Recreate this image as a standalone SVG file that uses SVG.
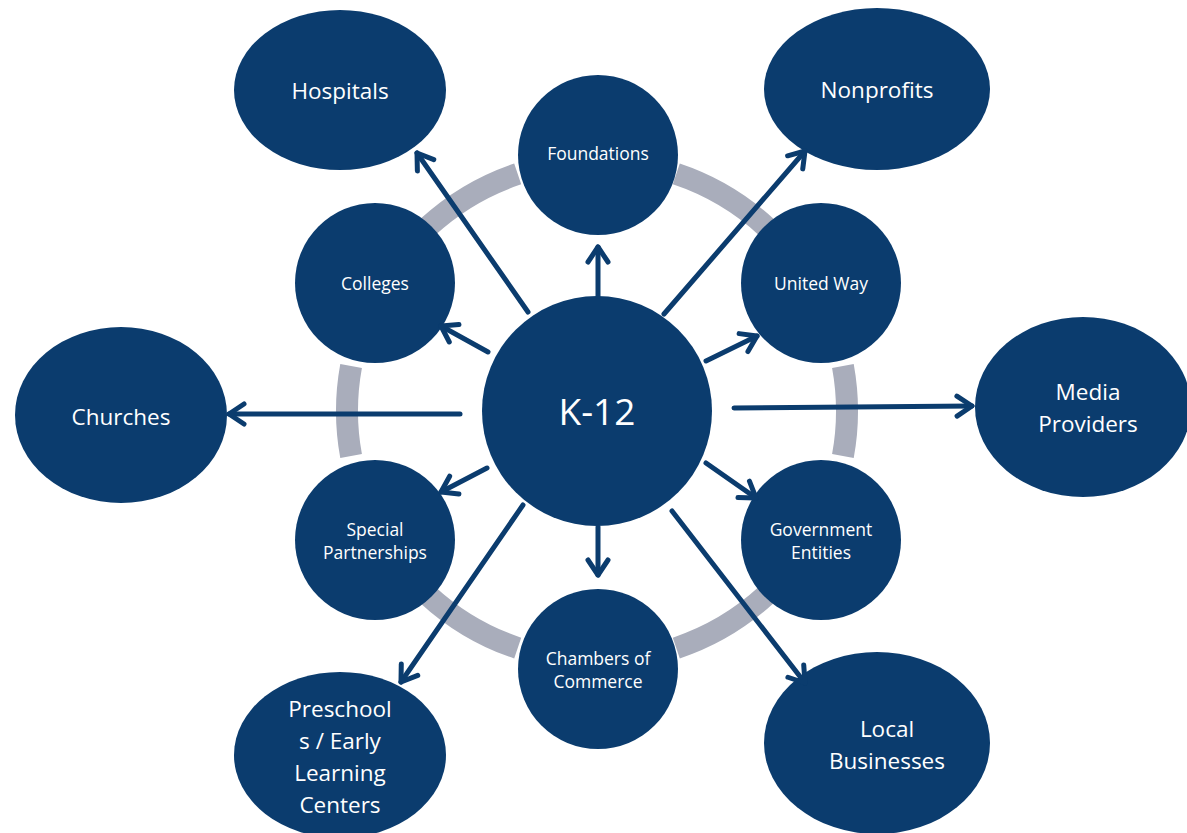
<svg xmlns="http://www.w3.org/2000/svg" width="1187" height="833" viewBox="0 0 1187 833">
<defs>
<style>
.node{fill:#0b3c6e}
.ring{fill:none;stroke:#a9adbb;stroke-width:22}
.conn{stroke:#0b3c6e;stroke-width:5;fill:none;stroke-linecap:round;marker-end:url(#arr)}
text{fill:#fff;font-family:"Open Sans","Liberation Sans",sans-serif;text-anchor:middle;dominant-baseline:central}
.s{font-size:17.5px}
.o{font-size:22.5px}
.k{font-size:37px}
</style>
<marker id="arr" markerUnits="userSpaceOnUse" markerWidth="30" markerHeight="30" viewBox="-22 -15 30 30" refX="0" refY="0" orient="auto">
<path d="M-15,-10 L0,0 L-15,10" fill="none" stroke="#0b3c6e" stroke-width="5" stroke-linecap="round" stroke-linejoin="round"/>
</marker>
</defs>
<rect width="1187" height="833" fill="#fff"/>
<g id="ring">
<path class="ring" d="M427.6,227.2 A250,250 0 0 1 517.7,173.9"/>
<path class="ring" d="M676.3,173.9 A250,250 0 0 1 766.6,227.3"/>
<path class="ring" d="M842.9,365.9 A250,250 0 0 1 842.9,456.1"/>
<path class="ring" d="M766.6,594.7 A250,250 0 0 1 676.3,648.1"/>
<path class="ring" d="M517.7,648.1 A250,250 0 0 1 427.6,594.8"/>
<path class="ring" d="M351.1,456.1 A250,250 0 0 1 351.1,365.9"/>
</g>
<g id="k12"><circle class="node" cx="597" cy="411" r="115"/><text class="k" x="597" y="410">K-12</text></g>
<g id="foundations"><circle class="node" cx="598" cy="155" r="80"/><text class="s" x="598" y="153">Foundations</text></g>
<g id="unitedway"><circle class="node" cx="821" cy="283" r="80"/><text class="s" x="821" y="283">United Way</text></g>
<g id="government"><circle class="node" cx="821" cy="540" r="80"/><text class="s" x="821" y="529">Government</text><text class="s" x="821" y="552">Entities</text></g>
<g id="chambers"><circle class="node" cx="598" cy="669" r="80"/><text class="s" x="598" y="658">Chambers of</text><text class="s" x="598" y="681">Commerce</text></g>
<g id="special"><circle class="node" cx="375" cy="540" r="80"/><text class="s" x="375" y="529">Special</text><text class="s" x="375" y="552">Partnerships</text></g>
<g id="colleges"><circle class="node" cx="375" cy="283" r="80"/><text class="s" x="375" y="283">Colleges</text></g>
<g id="hospitals"><ellipse class="node" cx="340" cy="90" rx="106" ry="80"/><text class="o" x="340" y="90">Hospitals</text></g>
<g id="nonprofits"><ellipse class="node" cx="877" cy="89" rx="113" ry="81"/><text class="o" x="877" y="89">Nonprofits</text></g>
<g id="churches"><ellipse class="node" cx="121" cy="415" rx="106" ry="88"/><text class="o" x="121" y="416">Churches</text></g>
<g id="media"><ellipse class="node" cx="1083" cy="407" rx="108" ry="90"/><text class="o" x="1088" y="391">Media</text><text class="o" x="1088" y="423">Providers</text></g>
<g id="preschools"><ellipse class="node" cx="340" cy="755" rx="106" ry="83"/><text class="o" x="340" y="708">Preschool</text><text class="o" x="340" y="740">s / Early</text><text class="o" x="340" y="772">Learning</text><text class="o" x="340" y="804">Centers</text></g>
<g id="local"><ellipse class="node" cx="877" cy="743" rx="113" ry="91"/><text class="o" x="887" y="728">Local</text><text class="o" x="887" y="760">Businesses</text></g>
<g id="connectors">
<line class="conn" x1="528" y1="312" x2="417" y2="153"/>
<line class="conn" x1="598" y1="296" x2="598" y2="247"/>
<line class="conn" x1="664" y1="314" x2="805" y2="151"/>
<line class="conn" x1="488" y1="352" x2="441" y2="326"/>
<line class="conn" x1="706" y1="361" x2="757" y2="336"/>
<line class="conn" x1="460" y1="414" x2="229" y2="414"/>
<line class="conn" x1="734" y1="408" x2="972" y2="406"/>
<line class="conn" x1="487" y1="468" x2="441" y2="492"/>
<line class="conn" x1="706" y1="463" x2="756" y2="498"/>
<line class="conn" x1="523" y1="505" x2="401" y2="682"/>
<line class="conn" x1="598" y1="527" x2="598" y2="575"/>
<line class="conn" x1="672" y1="511" x2="805" y2="683"/>
</g>
</svg>
